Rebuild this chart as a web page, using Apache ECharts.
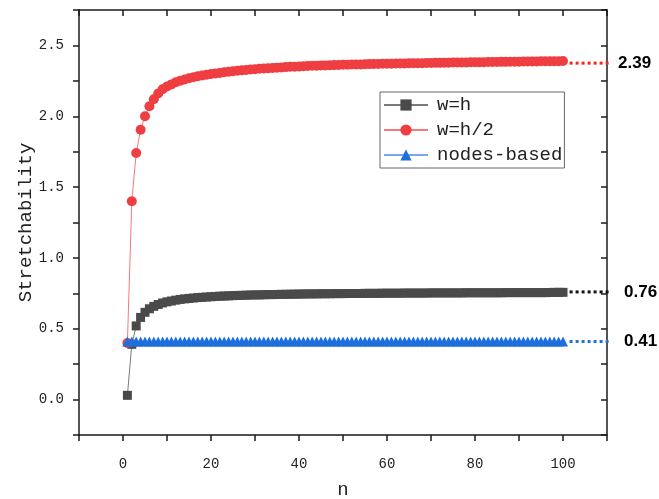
<!DOCTYPE html>
<html>
<head>
<meta charset="utf-8">
<script src="https://cdn.jsdelivr.net/npm/echarts@6/dist/echarts.min.js"></script>
<style>
html,body{margin:0;padding:0;background:#fff;}
#chart{width:659px;height:499px;}
</style>
</head>
<body>
<div id="chart"></div>
<script>
const nValues = [1,2,3,4,5,6,7,8,9,10,11,12,13,14,15,16,17,18,19,20,
21,22,23,24,25,26,27,28,29,30,31,32,33,34,35,36,37,38,39,40,
41,42,43,44,45,46,47,48,49,50,51,52,53,54,55,56,57,58,59,60,
61,62,63,64,65,66,67,68,69,70,71,72,73,74,75,76,77,78,79,80,
81,82,83,84,85,86,87,88,89,90,91,92,93,94,95,96,97,98,99,100];

const wEqualsH = [0.030,0.39,0.52,0.580,0.616,0.641,0.658,0.671,0.682,0.690,
0.696,0.702,0.707,0.711,0.714,0.717,0.720,0.722,0.724,0.726,
0.728,0.730,0.731,0.732,0.734,0.735,0.736,0.737,0.738,0.739,
0.739,0.740,0.741,0.741,0.742,0.743,0.743,0.744,0.744,0.745,
0.745,0.746,0.746,0.746,0.747,0.747,0.747,0.748,0.748,0.748,
0.749,0.749,0.749,0.749,0.750,0.750,0.750,0.750,0.751,0.751,
0.751,0.751,0.751,0.752,0.752,0.752,0.752,0.752,0.752,0.753,
0.753,0.753,0.753,0.753,0.753,0.753,0.753,0.754,0.754,0.754,
0.754,0.754,0.754,0.754,0.754,0.754,0.755,0.755,0.755,0.755,
0.755,0.755,0.755,0.755,0.755,0.755,0.756,0.757,0.757,0.757];

const wEqualsHHalf = [0.40,1.40,1.74,1.905,2.00,2.07,2.12,2.16,2.19,2.21,
2.225,2.24,2.25,2.26,2.268,2.275,2.282,2.288,2.293,2.298,
2.302,2.306,2.310,2.314,2.318,2.321,2.324,2.327,2.330,2.332,
2.335,2.337,2.339,2.341,2.343,2.345,2.347,2.349,2.350,2.352,
2.353,2.355,2.356,2.357,2.358,2.359,2.360,2.361,2.362,2.363,
2.364,2.365,2.366,2.366,2.367,2.368,2.369,2.369,2.370,2.371,
2.371,2.372,2.373,2.373,2.374,2.374,2.375,2.375,2.376,2.376,
2.377,2.377,2.378,2.378,2.379,2.379,2.380,2.380,2.381,2.381,
2.382,2.382,2.383,2.383,2.383,2.384,2.384,2.385,2.385,2.385,
2.386,2.386,2.387,2.387,2.388,2.388,2.388,2.389,2.389,2.390];

const nodesBased = [0.41,0.41,0.41,0.41,0.41,0.41,0.41,0.41,0.41,0.41,
0.41,0.41,0.41,0.41,0.41,0.41,0.41,0.41,0.41,0.41,
0.41,0.41,0.41,0.41,0.41,0.41,0.41,0.41,0.41,0.41,
0.41,0.41,0.41,0.41,0.41,0.41,0.41,0.41,0.41,0.41,
0.41,0.41,0.41,0.41,0.41,0.41,0.41,0.41,0.41,0.41,
0.41,0.41,0.41,0.41,0.41,0.41,0.41,0.41,0.41,0.41,
0.41,0.41,0.41,0.41,0.41,0.41,0.41,0.41,0.41,0.41,
0.41,0.41,0.41,0.41,0.41,0.41,0.41,0.41,0.41,0.41,
0.41,0.41,0.41,0.41,0.41,0.41,0.41,0.41,0.41,0.41,
0.41,0.41,0.41,0.41,0.41,0.41,0.41,0.41,0.41,0.41];

const seriesNames = ['w=h', 'w=h/2', 'nodes-based'];
const annotationValues = [0.76, 2.375, 0.41];
const annotationLabels = ['0.76', '2.39', '0.41'];
const annotationStartN = 101.5;
const annotationEndN = 111.5;
const xTickLabels = [0, 20, 40, 60, 80, 100];
const yTickLabels = [0.0, 0.5, 1.0, 1.5, 2.0, 2.5];

const markerColors = ['#4a4a4a', '#ef3e42', '#1c6fdc'];
const lineColors = ['#7a7a7a', '#f47a7c', '#78a8ec'];
const dotColors = ['#111111', '#ff2020', '#1a78d0'];
const labelGaps = [15, 9, 15];

const monoFont = '"Liberation Mono", "DejaVu Sans Mono", monospace';

function pairs(vals) { return nValues.map((n, i) => [n, vals[i]]); }

const frameLine = { show: true, onZero: false, lineStyle: { color: '#1a1a1a', width: 1.5 } };

const chart = echarts.init(document.getElementById('chart'), null, { renderer: 'canvas' });

const dataSeries = [
  { name: seriesNames[0], vals: wEqualsH, symbol: 'rect', size: 9 },
  { name: seriesNames[1], vals: wEqualsHHalf, symbol: 'circle', size: 10 },
  { name: seriesNames[2], vals: nodesBased, symbol: 'triangle', size: 10 }
].map((s, i) => ({
  type: 'line',
  name: s.name,
  data: pairs(s.vals),
  symbol: s.symbol,
  symbolSize: s.size,
  showAllSymbol: true,
  itemStyle: { color: markerColors[i] },
  lineStyle: { color: lineColors[i], width: 1 },
  z: 3 + i,
  animation: false
}));

const annSeries = annotationValues.map((v, i) => ({
  type: 'line',
  name: 'ann' + i,
  data: [[annotationStartN, v], [annotationEndN, v]],
  clip: false,
  symbol: 'none',
  silent: true,
  lineStyle: { color: dotColors[i], width: 3, type: [3, 3], cap: 'butt' },
  endLabel: {
    show: true,
    formatter: annotationLabels[i],
    distance: labelGaps[i],
    color: '#000',
    fontFamily: '"Liberation Sans", Arial, sans-serif',
    fontWeight: 'bold',
    fontSize: 17
  },
  z: 2,
  animation: false
}));

chart.setOption({
  animation: false,
  backgroundColor: '#ffffff',
  grid: { left: 79, top: 10, right: 52, bottom: 64, containLabel: false, outerBoundsMode: 'none' },
  legend: {
    data: seriesNames,
    orient: 'vertical',
    left: 380,
    top: 92,
    itemWidth: 44,
    itemHeight: 14,
    itemGap: 5,
    padding: [3, 2, 3, 3],
    borderColor: '#666',
    borderWidth: 1,
    textStyle: { fontFamily: monoFont, fontSize: 19, color: '#222', lineHeight: 20, padding: [0, 0, 0, 4] }
  },
  xAxis: [{
    type: 'value', min: -10, max: 110, interval: 10,
    position: 'bottom',
    name: 'n', nameLocation: 'middle', nameGap: 45, nameMoveOverlap: false,
    nameTextStyle: { fontFamily: monoFont, fontSize: 19, color: '#222' },
    axisLine: frameLine,
    axisTick: { show: true, inside: false, length: 6, lineStyle: { color: '#1a1a1a', width: 1.5 } },
    axisLabel: {
      margin: 22, fontFamily: monoFont, fontSize: 14, color: '#222',
      formatter: v => xTickLabels.indexOf(v) >= 0 ? String(v) : ''
    },
    splitLine: { show: false }
  }, {
    type: 'value', min: -10, max: 110, interval: 10,
    position: 'top',
    axisLine: frameLine,
    axisTick: { show: true, inside: true, length: 6, lineStyle: { color: '#1a1a1a', width: 1.5 } },
    axisLabel: { show: false },
    splitLine: { show: false }
  }],
  yAxis: [{
    type: 'value', min: -0.25, max: 2.75, interval: 0.25,
    position: 'left',
    name: 'Stretchability', nameLocation: 'middle', nameGap: 44, nameRotate: 90, nameMoveOverlap: false,
    nameTextStyle: { fontFamily: monoFont, fontSize: 19, color: '#222' },
    axisLine: frameLine,
    axisTick: { show: true, inside: false, length: 6, lineStyle: { color: '#1a1a1a', width: 1.5 } },
    axisLabel: {
      margin: 15, fontFamily: monoFont, fontSize: 14, color: '#222',
      formatter: v => {
        const r = Math.round(v * 100) / 100;
        return yTickLabels.some(t => Math.abs(t - r) < 1e-6) ? r.toFixed(1) : '';
      }
    },
    splitLine: { show: false }
  }, {
    type: 'value', min: -0.25, max: 2.75, interval: 0.25,
    position: 'right',
    axisLine: frameLine,
    axisTick: { show: true, inside: true, length: 6, lineStyle: { color: '#1a1a1a', width: 1.5 } },
    axisLabel: { show: false },
    splitLine: { show: false }
  }],
  series: dataSeries.concat(annSeries)
});
</script>
</body>
</html>
